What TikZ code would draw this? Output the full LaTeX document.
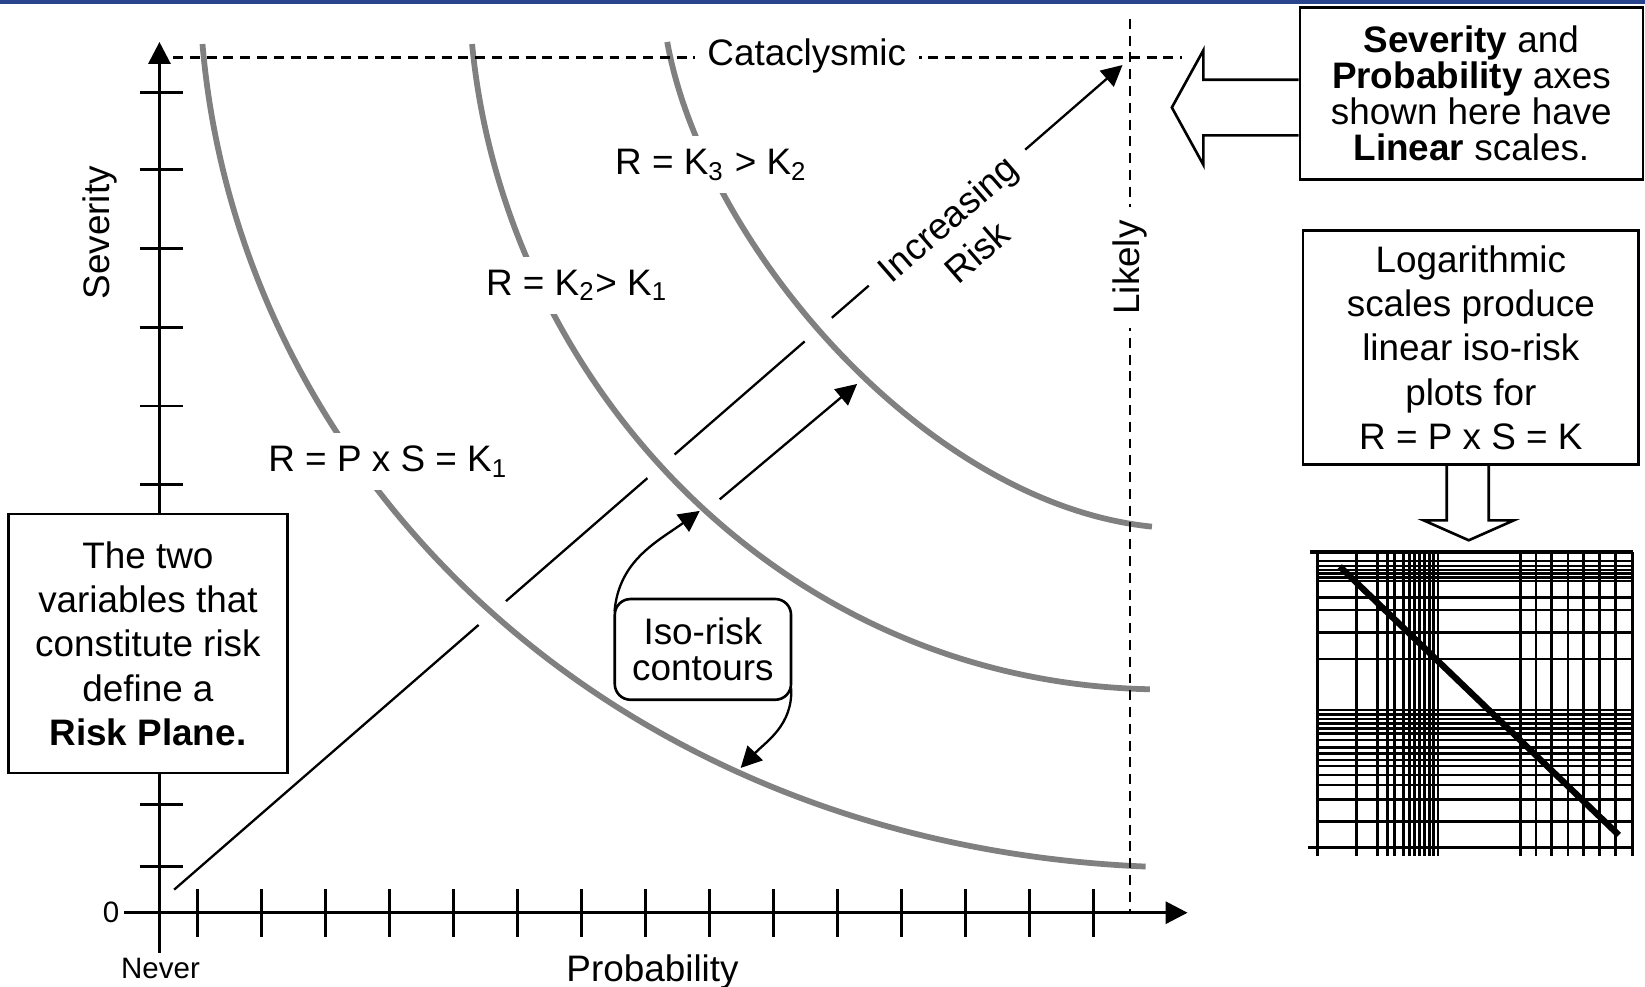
\documentclass[tikz,border=0pt]{standalone}
\usepackage{fontspec}
\setmainfont{Liberation Sans}
\usepackage{xcolor}
\usepackage{tikz}
\usetikzlibrary{arrows.meta,positioning,calc}
\definecolor{topbar}{RGB}{40,68,140}

\begin{document}
\begin{tikzpicture}[
x=0.1mm, y=0.1mm,
note/.style={draw, line width=0.25mm, fill=white, align=center},
riskcurve/.style={draw=black!50, line width=0.55mm, preaction={draw=white, line width=3.4mm}},
arr/.style={-{Triangle[length=2mm, width=2mm]}, line width=0.22mm},
axisline/.style={-{Triangle[length=2.1mm, width=2.1mm]}, line width=0.3mm},
guide/.style={dash pattern=on 0.95mm off 0.65mm, line width=0.24mm},
lbl/.style={fill=white, inner sep=3.5pt},
hollow/.style={draw, fill=white, line width=0.25mm, line join=miter},
gridline/.style={line width=0.26mm},
small/.style={font=\fontsize{8}{9.6}\selectfont},
tight/.style={font=\fontsize{10}{9.7}\selectfont}
]
\useasboundingbox (0,0) rectangle (1568,940);
\fill[topbar] (0,936) rectangle (1568,940);

\coordinate (ybot) at (152,32);
\coordinate (ytop) at (152,900);
\coordinate (xstart) at (118,70);
\coordinate (xend) at (1132,70);
\coordinate (riskstart) at (166,92);
\coordinate (risktip) at (1070,878);

\draw[arr] (riskstart) -- (risktip);
\node[lbl, rotate=41, align=center, inner xsep=5pt, inner ysep=1pt] (incr) at (917,716) {Increasing\\Risk};

\draw[riskcurve] (193,898) .. controls (228,485) and (585,135) .. (1092,114);
\draw[riskcurve] (450,898) .. controls (480,580) and (740,290) .. (1096,283);
\draw[riskcurve] (636,900) .. controls (670,710) and (880,460) .. (1098,438);

\node[lbl] (k1lbl) at (370,500) {R = P x S = K\textsubscript{1}};
\node[lbl] (k2lbl) at (550,668) {R = K\textsubscript{2}> K\textsubscript{1}};
\node[lbl] (k3lbl) at (678,783) {R = K\textsubscript{3} > K\textsubscript{2}};

\draw[guide] (165,885) -- (1127,885);
\draw[guide] (1077,922) -- (1077,72);
\node[lbl] (cata) at (769,887) {Cataclysmic};
\node[lbl, rotate=90] (likely) at (1077,685) {Likely};

\foreach \ty in {852,778,703,628,553,478,403,328,253,173,114}
  \draw[line width=0.28mm] (133,\ty) -- (174,\ty);
\foreach \k in {0,...,14}
  \draw[line width=0.28mm] ({188+61*\k},47) -- ({188+61*\k},93);
\draw[axisline] (ybot) -- (ytop);
\draw[axisline] (xstart) -- (xend);

\node[rotate=90] (sev) at (95,718) {Severity};
\node (prob) at (622,14) {Probability};
\node[small] (never) at (153,17) {Never};
\node[small, anchor=east, inner sep=1pt] (zero) at (xstart) {0};

\node[note, minimum width=26.6mm, minimum height=24.7mm] (planebox) at (141,326.5) {The two\\variables that\\constitute risk\\define a\\\textbf{Risk Plane.}};

\node[note, tight, rounded corners=1.5mm, minimum width=16.8mm, minimum height=9.6mm] (isobox) at (670,321) {Iso-risk\\contours};
\coordinate (k2tip) at (667,453);
\coordinate (k1tip) at (706,208);
\coordinate (k2out) at (686,464);
\coordinate (k3tip) at (817,574);
\draw[arr] ($(isobox.north west)+(1,-13)$) to[out=85, in=216] (k2tip);
\draw[arr] ($(isobox.south east)+(-1,12)$) to[out=-88, in=46] (k1tip);
\draw[arr] (k2out) -- (k3tip);

\node[note, tight, minimum width=32.7mm, minimum height=16.4mm] (sevbox) at (1402.5,851) {\textbf{Severity} and\\\textbf{Probability} axes\\shown here have\\\textbf{Linear} scales.};
\draw[hollow] ($(sevbox.west)+(0,13)$) -- (1147,864) -- (1147,892) -- (1117,837.5) -- (1147,783) -- (1147,811) -- ($(sevbox.west)+(0,-40)$);

\node[note, minimum width=32mm, minimum height=22.3mm] (logbox) at (1402,608.5) {Logarithmic\\scales produce\\linear iso-risk\\plots for\\R = P x S = K};
\draw[hollow] ($(logbox.south)+(-23,0)$) -- (1379,444) -- (1357,444) -- (1400,425) -- (1443,444) -- (1419,444) -- ($(logbox.south)+(17,0)$);

\foreach \gx in {1255.8,1292.7,1313,1322.5,1329.2,1337.8,1343.5,1348.3,1353,1357.8,1362.5,1366.3,1370.6,1449,1464,1479.2,1494.5,1509.4,1524.6,1539.6,1556.4}
  \draw[gridline] (\gx,414) -- (\gx,124);
\foreach \gy in {405.2,400.4,396.6,393.5,389.6,386.1,370.6,358.5,336.9,311.8,263.2,259,254.6,250.4,245.7,240.9,234.6,227.6,221.8,215.5,209.8,201.2,191.7,178,156.7}
  \draw[gridline] (1256,\gy) -- (1557,\gy);
\draw[line width=0.4mm] (1249,414) -- (1557,414);
\draw[gridline] (1247,132) -- (1557,132);
\draw[line width=0.6mm] (1277,400) -- (1543,144);
\end{tikzpicture}
\end{document}
